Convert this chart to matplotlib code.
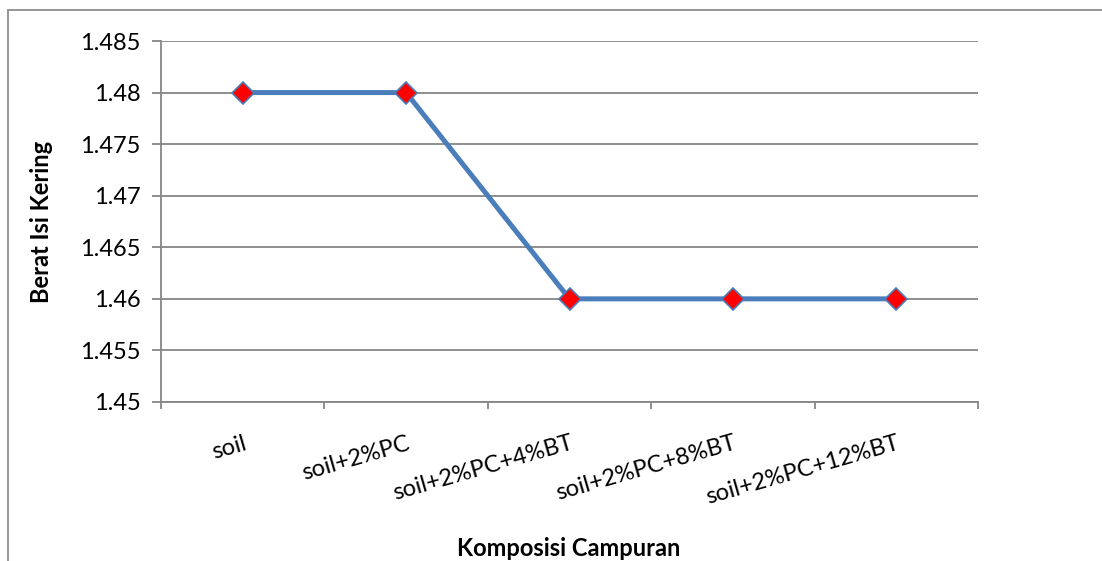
import numpy as np
import matplotlib.pyplot as plt
from matplotlib.patches import Rectangle

# data
kategori = ['soil', 'soil+2%PC', 'soil+2%PC+4%BT', 'soil+2%PC+8%BT', 'soil+2%PC+12%BT']
berat_isi = [1.48, 1.48, 1.46, 1.46, 1.46]
y_ticks = [1.45, 1.455, 1.46, 1.465, 1.47, 1.475, 1.48, 1.485]

plt.rcParams['font.family'] = ['Lato', 'DejaVu Sans']
grey = '#868686'

fig = plt.figure(figsize=(11.02, 5.61), dpi=100)
ax = fig.add_axes([161/1102, 1-402/561, (978-161)/1102, (402-41)/561])

x = np.arange(len(kategori))
ax.plot(x, berat_isi, color='#4A7EBB', lw=3.6, marker='D', ms=11,
        mfc='red', mec='#4A7EBB', mew=1.2, zorder=3)

ax.set_xlim(-0.5, len(kategori)-0.5)
ax.set_ylim(1.45, 1.485)
ax.set_yticks(y_ticks)
ax.set_yticklabels(['1.45', '1.455', '1.46', '1.465', '1.47', '1.475', '1.48', '1.485'])
ax.grid(axis='y', color=grey, lw=1.3)
ax.set_axisbelow(True)

# category boundaries as ticks, labels at centers
ax.set_xticks(np.arange(-0.5, len(kategori)), labels=[''] * (len(kategori)+1))
ax.set_xticks(x, minor=True)
ax.set_xticklabels(kategori, minor=True, rotation=16, ha='right', va='top',
                   rotation_mode='anchor', fontsize=17)
ax.tick_params(axis='x', which='major', length=5, color=grey, width=1.3, direction='out')
ax.tick_params(axis='x', which='minor', length=0, pad=22)
ax.tick_params(axis='y', length=6.5, color=grey, width=1.3, labelsize=17, pad=8)

for s in ['top', 'right']:
    ax.spines[s].set_visible(False)
for s in ['left', 'bottom']:
    ax.spines[s].set_color(grey)
    ax.spines[s].set_linewidth(1.3)

fig.text(569/1102, 1-548/561, 'Komposisi Campuran', fontsize=17, fontweight='bold',
         ha='center', va='center')
fig.text(42/1102, 1-222/561, 'Berat Isi Kering', fontsize=17, fontweight='bold',
         ha='center', va='center', rotation=90)

# chart border (cropped on right and bottom)
fig.patches.append(Rectangle((8/1102, -0.1), 1.2, 1 - 10/561 + 0.1,
                             transform=fig.transFigure, fill=False,
                             edgecolor='#8c8c8c', lw=1.3))

fig.savefig('out.png', dpi=100)
